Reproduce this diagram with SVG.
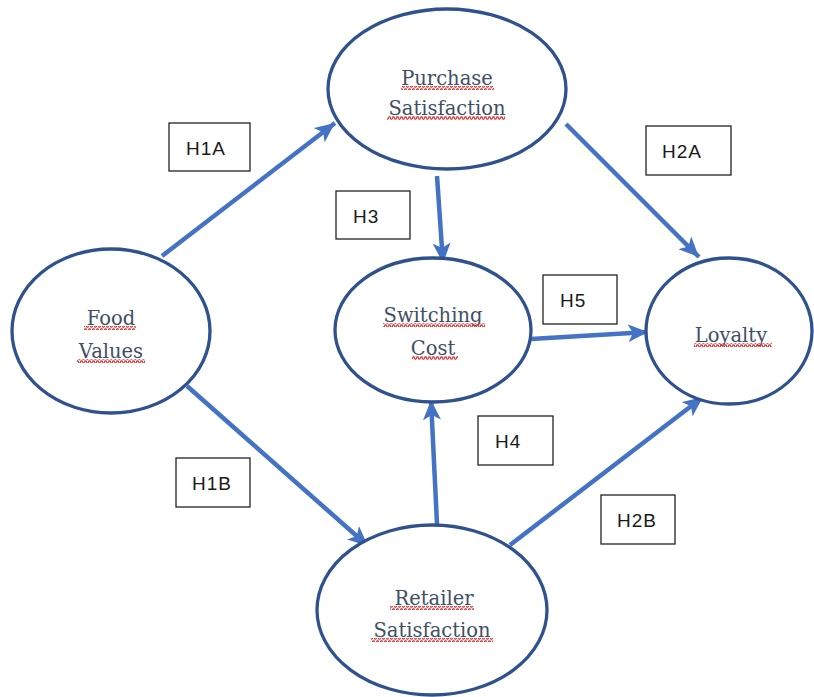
<svg xmlns="http://www.w3.org/2000/svg" width="814" height="697" viewBox="0 0 814 697">
<style>
.node ellipse{fill:#fff;stroke:#2F528F;stroke-width:3.3}
.lbl{font-family:"DejaVu Serif","Liberation Serif",serif;font-size:19.5px;fill:#3E4F66;text-anchor:middle}
.conn line{stroke:#4472C4;stroke-width:4.5;marker-end:url(#ah)}
.hbox rect{fill:#fff;stroke:#222;stroke-width:1.3}
.hbox text{font-family:"Liberation Sans",Arial,sans-serif;font-size:19px;fill:#1a1a1a;letter-spacing:1px}
.wave{fill:url(#wv)}
</style>
<defs>
<marker id="ah" markerUnits="userSpaceOnUse" markerWidth="22" markerHeight="18" refX="20" refY="9" orient="auto">
<path d="M0,0 L20,9 L0,18 L5,9 Z" fill="#4472C4"/>
</marker>
<pattern id="wv" patternUnits="userSpaceOnUse" width="4" height="4">
<path d="M0,3.2 L1,0.8 L2,0.8 L3,3.2 L4,3.2" fill="none" stroke="#E03030" stroke-width="1.2"/>
</pattern>
</defs>
<rect width="814" height="697" fill="#fff"/>
<g class="conn" id="connectors">
<line x1="162" y1="256" x2="335" y2="123"/>
<line x1="566" y1="124" x2="699" y2="257"/>
<line x1="437" y1="176" x2="443" y2="263"/>
<line x1="531" y1="339" x2="648" y2="332"/>
<line x1="187" y1="386" x2="368" y2="546"/>
<line x1="437" y1="524" x2="431" y2="400"/>
<line x1="510" y1="545" x2="703" y2="397"/>
</g>
<g class="node" id="purchase">
<ellipse cx="447" cy="89" rx="119" ry="80"/>
<text class="lbl" x="447" y="85">Purchase</text>
<text class="lbl" x="447" y="115">Satisfaction</text>
<rect class="wave" x="401" y="86" width="93" height="4"/>
<rect class="wave" x="387" y="116" width="118" height="4"/>
</g>
<g class="node" id="food">
<ellipse cx="111" cy="331" rx="99" ry="82"/>
<text class="lbl" x="111" y="325">Food</text>
<text class="lbl" x="111" y="358">Values</text>
<rect class="wave" x="84" y="326" width="52" height="4"/>
<rect class="wave" x="77" y="359" width="68" height="4"/>
</g>
<g class="node" id="switching">
<ellipse cx="433" cy="330" rx="98" ry="72"/>
<text class="lbl" x="433" y="322">Switching</text>
<text class="lbl" x="433" y="355">Cost</text>
<rect class="wave" x="383" y="323" width="102" height="4"/>
<rect class="wave" x="412" y="356" width="46" height="4"/>
</g>
<g class="node" id="loyalty">
<ellipse cx="729" cy="331" rx="83" ry="73"/>
<text class="lbl" x="731" y="342">Loyalty</text>
<rect class="wave" x="694" y="343" width="78" height="4"/>
</g>
<g class="node" id="retailer">
<ellipse cx="432" cy="610" rx="115" ry="85"/>
<text class="lbl" x="434" y="605">Retailer</text>
<text class="lbl" x="432" y="637">Satisfaction</text>
<rect class="wave" x="390" y="606" width="84" height="4"/>
<rect class="wave" x="371" y="638" width="122" height="4"/>
</g>
<g class="hbox" id="h1a"><rect x="169" y="123" width="81" height="48"/><text x="186" y="155">H1A</text></g>
<g class="hbox" id="h3"><rect x="336" y="191" width="74" height="48"/><text x="353" y="223">H3</text></g>
<g class="hbox" id="h2a"><rect x="646" y="126" width="85" height="49"/><text x="662" y="158">H2A</text></g>
<g class="hbox" id="h5"><rect x="543" y="275" width="74" height="49"/><text x="560" y="307">H5</text></g>
<g class="hbox" id="h1b"><rect x="176" y="458" width="74" height="49"/><text x="192" y="490">H1B</text></g>
<g class="hbox" id="h4"><rect x="478" y="416" width="75" height="49"/><text x="495" y="448">H4</text></g>
<g class="hbox" id="h2b"><rect x="601" y="495" width="74" height="49"/><text x="617" y="527">H2B</text></g>
</svg>
